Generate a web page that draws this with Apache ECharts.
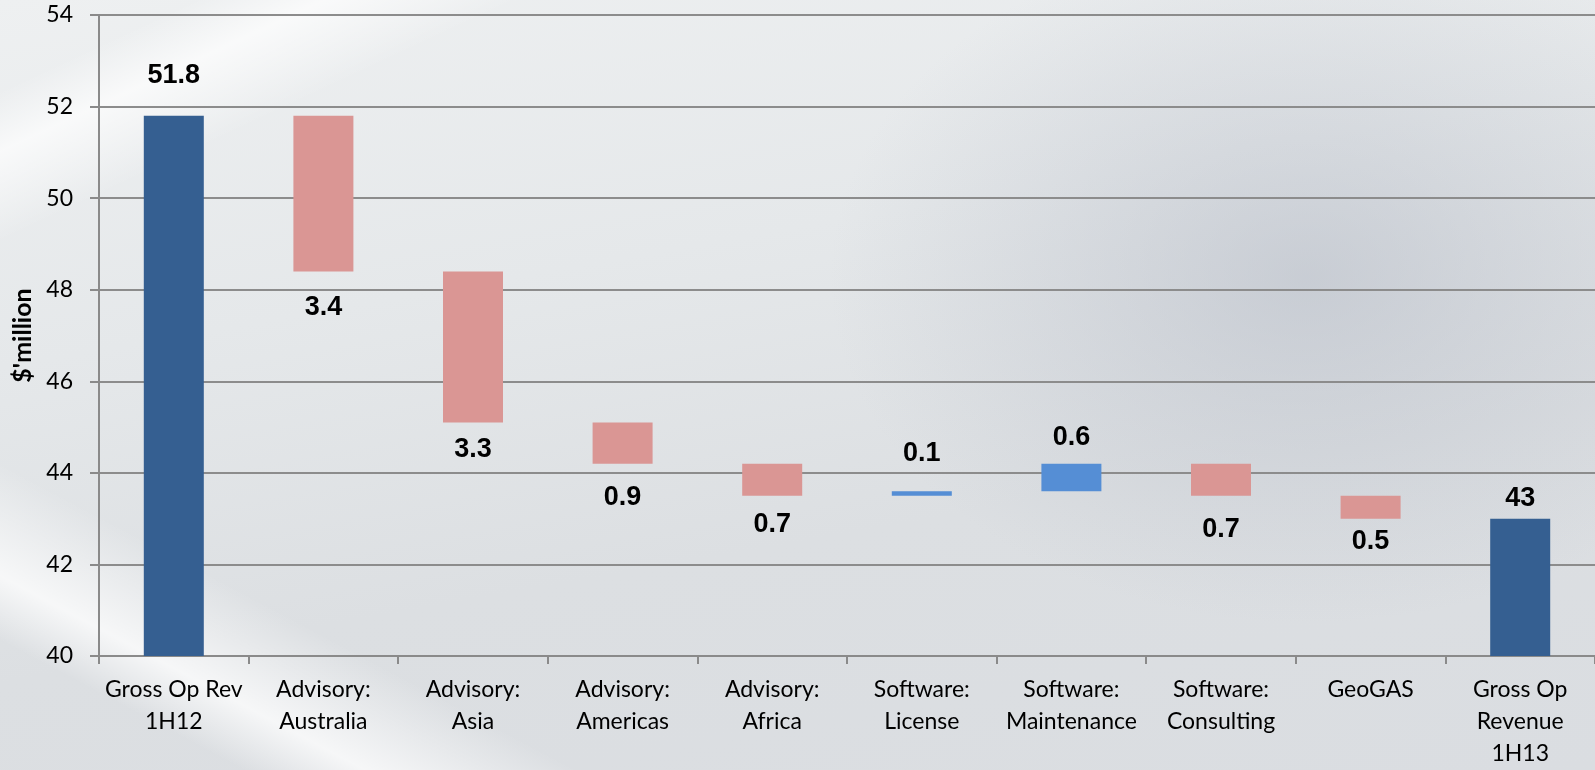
<!DOCTYPE html>
<html>
<head>
<meta charset="utf-8">
<title>Gross Op Revenue bridge</title>
<script src="https://cdn.jsdelivr.net/npm/echarts@6/dist/echarts.min.js"></script>
<style>
  html, body {
    margin: 0;
    padding: 0;
    width: 1595px;
    height: 770px;
    overflow: hidden;
  }
  body {
    background:
      linear-gradient(28deg, rgba(255,255,255,0) 8%, rgba(255,255,255,0.75) 12%, rgba(255,255,255,0) 19%),
      linear-gradient(155deg, rgba(255,255,255,0) 6%, rgba(255,255,255,0.7) 10%, rgba(255,255,255,0) 16%),
      radial-gradient(ellipse 30% 45% at 82% 36%, rgba(176,182,194,0.5), rgba(176,182,194,0)),
      linear-gradient(170deg, #eef0f1 0%, #e5e8ea 35%, #dcdfe2 65%, #dadde1 100%);
  }
  #myChart {
    width: 1595px;
    height: 770px;
  }
</style>
</head>
<body>
<div id="myChart"></div>
<script>
// 分类
const categories = [
  'Gross Op Rev\n1H12', 'Advisory:\nAustralia', 'Advisory:\nAsia', 'Advisory:\nAmericas',
  'Advisory:\nAfrica', 'Software:\nLicense', 'Software:\nMaintenance', 'Software:\nConsulting',
  'GeoGAS', 'Gross Op\nRevenue\n1H13'
];
// 变动值（首尾为合计）
const changes = [51.8, -3.4, -3.3, -0.9, -0.7, 0.1, 0.6, -0.7, -0.5, 43];
const isTotal = [true, false, false, false, false, false, false, false, false, true];
// label gap above / below each bar (px)
const labelGap = [27, 23, 14, 20, 15, 24, 13, 20, 9, 7];

const yTicks = { min: 40, max: 54, interval: 2 };

const labelFont = {
  color: '#000',
  fontSize: 27,
  fontWeight: 'bold',
  fontFamily: "'Liberation Sans', Arial, sans-serif"
};

// build waterfall stacks
let running = 0;
const baseData = [], downData = [], upData = [], totalData = [];
changes.forEach((v, i) => {
  if (isTotal[i]) {
    running = v;
    baseData.push('-');
    downData.push('-');
    upData.push('-');
    totalData.push({
      value: v,
      label: { show: true, position: 'top', distance: labelGap[i] }
    });
    return;
  }
  const next = +(running + v).toFixed(2);
  baseData.push(Math.min(running, next));
  totalData.push('-');
  if (v < 0) {
    downData.push({
      value: -v,
      label: { show: true, position: 'bottom', distance: labelGap[i] }
    });
    upData.push('-');
  } else {
    upData.push({
      value: v,
      label: { show: true, position: 'top', distance: labelGap[i] }
    });
    downData.push('-');
  }
  running = next;
});

const fmt = p => String(+Math.abs(p.value).toFixed(1));

const myChart = echarts.init(document.getElementById('myChart'));
const option = {
  backgroundColor: 'transparent',
  animation: false,
  grid: { left: 99, right: 0, top: 15, bottom: 112 },
  xAxis: {
    type: 'category',
    data: categories,
    axisLine: { show: true, lineStyle: { color: '#8a8a8a', width: 2 } },
    axisTick: { show: true, length: 8, lineStyle: { color: '#8a8a8a', width: 2 } },
    axisLabel: {
      interval: 0,
      margin: 18,
      color: '#000',
      fontSize: 23,
      lineHeight: 32,
      fontFamily: 'Lato, sans-serif'
    },
    splitLine: { show: false }
  },
  yAxis: {
    type: 'value',
    min: yTicks.min,
    max: yTicks.max,
    interval: yTicks.interval,
    name: "$'million",
    nameLocation: 'middle',
    nameGap: 62,
    nameRotate: 90,
    nameTextStyle: {
      color: '#000',
      fontSize: 25,
      fontWeight: 'bold',
      fontFamily: 'Lato, sans-serif'
    },
    axisLine: { show: true, lineStyle: { color: '#8a8a8a', width: 2 } },
    axisTick: { show: true, length: 9, lineStyle: { color: '#8a8a8a', width: 2 } },
    axisLabel: {
      margin: 26,
      color: '#000',
      fontSize: 23,
      fontFamily: 'Lato, sans-serif'
    },
    splitLine: { show: true, lineStyle: { color: '#8c8c8c', width: 2 } }
  },
  series: [
    {
      name: 'base',
      type: 'bar',
      stack: 'wf',
      barWidth: 60,
      itemStyle: { color: 'transparent' },
      emphasis: { disabled: true },
      data: baseData
    },
    {
      name: 'down',
      type: 'bar',
      stack: 'wf',
      barWidth: 60,
      itemStyle: { color: '#da9694' },
      label: Object.assign({ formatter: fmt }, labelFont),
      data: downData
    },
    {
      name: 'up',
      type: 'bar',
      stack: 'wf',
      barWidth: 60,
      itemStyle: { color: '#558ed5' },
      label: Object.assign({ formatter: fmt }, labelFont),
      data: upData
    },
    {
      name: 'total',
      type: 'bar',
      stack: 'wf',
      barWidth: 60,
      itemStyle: { color: '#355f91' },
      label: Object.assign({ formatter: fmt }, labelFont),
      data: totalData
    }
  ]
};
myChart.setOption(option);
</script>
</body>
</html>
